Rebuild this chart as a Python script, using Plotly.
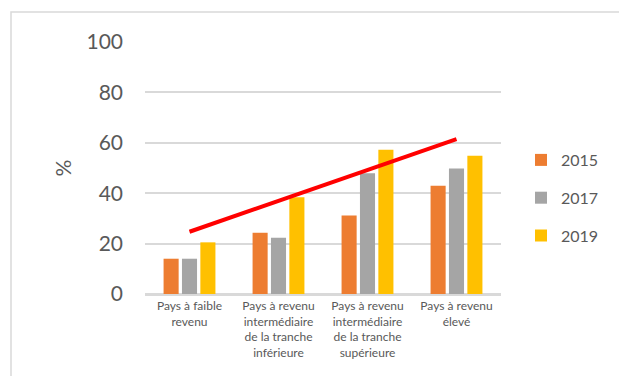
import plotly.graph_objects as go

# Income groups and share (%) by survey year
categories = [
    "Pays à faible<br>revenu",
    "Pays à revenu<br>intermédiaire<br>de la tranche<br>inférieure",
    "Pays à revenu<br>intermédiaire<br>de la tranche<br>supérieure",
    "Pays à revenu<br>élevé",
]
years = ["2015", "2017", "2019"]
values_2015 = [14, 24.3, 31.2, 43]
values_2017 = [14, 22.3, 47.9, 49.8]
values_2019 = [20.5, 38.4, 57.2, 54.9]

# Trend line endpoints (first and last group)
trend_x = [categories[0], categories[-1]]
trend_y = [24.7, 61.5]

colors = ["#ED7D31", "#A5A5A5", "#FFC000"]
series = [values_2015, values_2017, values_2019]

W, H = 619, 376
ML, MR, MT, MB = 145, 118, 42, 82
pw, ph = W - ML - MR, H - MT - MB

fig = go.Figure()
for name, vals, col in zip(years, series, colors):
    fig.add_trace(go.Bar(
        x=categories, y=vals, name=name, marker=dict(color=col, line=dict(width=0)),
        legendgroup=name,
    ))

fig.add_trace(go.Scatter(
    x=trend_x, y=trend_y, mode="lines", line=dict(color="#FF0000", width=4),
    showlegend=False, hoverinfo="skip",
))

font_family = "Lato, 'Open Sans', sans-serif"
grey_text = "#595959"

# Outer chart frame
x0 = (11 - ML) / pw
y1 = (H - MB - 12) / ph
fig.add_shape(type="rect", xref="paper", yref="paper",
              x0=x0, x1=2.0, y0=-1.0, y1=y1,
              line=dict(color="#D9D9D9", width=1.5), fillcolor="rgba(0,0,0,0)", layer="below")

fig.update_layout(
    width=W, height=H,
    margin=dict(l=ML, r=MR, t=MT, b=MB, autoexpand=False),
    paper_bgcolor="white", plot_bgcolor="white",
    barmode="group", bargap=0.38, bargroupgap=0.18,
    font=dict(family=font_family, color=grey_text),
    legend=dict(
        x=(521 - ML) / pw, y=(H - MB - 143) / ph, xanchor="left", yanchor="top",
        font=dict(size=16, color=grey_text), tracegroupgap=14,
        bgcolor="rgba(0,0,0,0)", itemwidth=30,
    ),
    xaxis=dict(
        showgrid=False, showline=True, linecolor="#D9D9D9", linewidth=1.5,
        tickfont=dict(size=12, color=grey_text), ticks="", fixedrange=True,
    ),
    yaxis=dict(
        range=[0, 100], tickvals=[0, 20, 40, 60, 80, 100],
        showgrid=True, gridcolor="#D9D9D9", gridwidth=1.5,
        zeroline=True, zerolinecolor="#D9D9D9", zerolinewidth=1.5,
        tickfont=dict(size=21, color=grey_text), ticklabelstandoff=21,
        title=dict(text="%", font=dict(size=21, color=grey_text), standoff=9),
    ),
)

fig.write_html("out.html")
